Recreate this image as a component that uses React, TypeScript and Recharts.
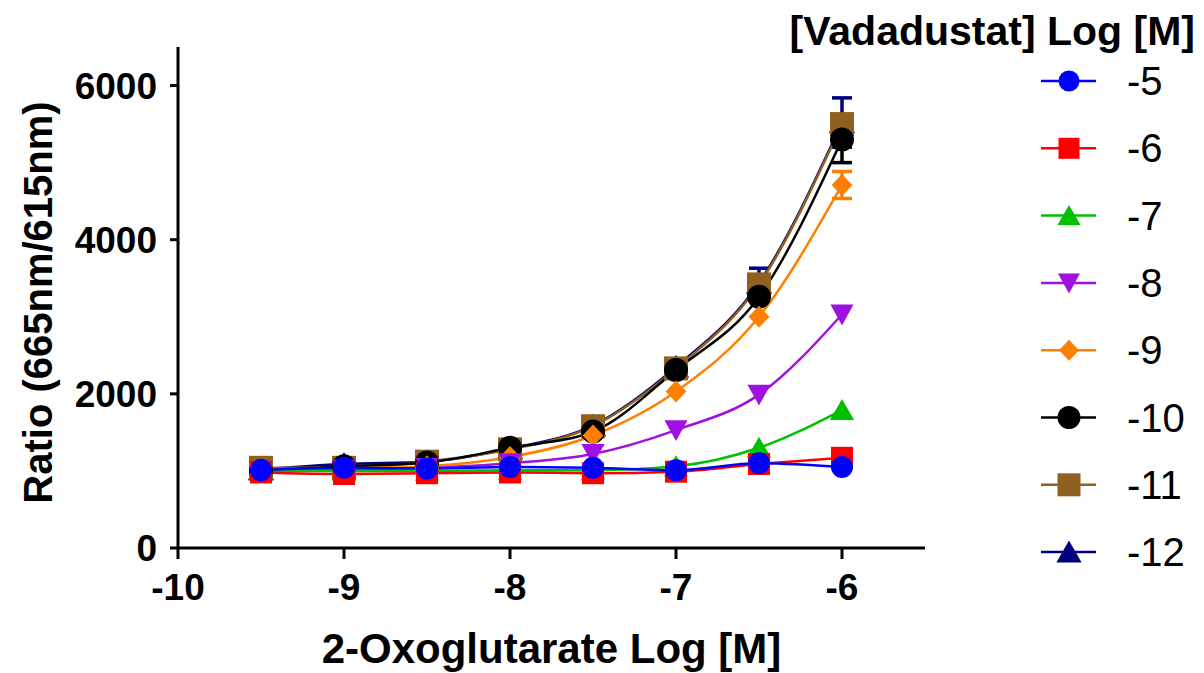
import React from 'react';
import { LineChart, Line, XAxis, YAxis, ErrorBar, Label } from 'recharts';

document.body.style.margin = '0';

const FONT = '"Liberation Sans", Arial, sans-serif';

// 2-oxoglutarate concentrations (log M)
const X_LOG = [-9.5, -9, -8.5, -8, -7.5, -7, -6.5, -6];
const X_TICKS = [-10, -9, -8, -7, -6];
const Y_TICKS = [0, 2000, 4000, 6000];
const X_DOMAIN: [number, number] = [-10, -5.5];
const Y_DOMAIN: [number, number] = [0, 6500];

// ratio (665nm/615nm) per vadadustat concentration
const RATIO_M5 = [1010, 1040, 1030, 1050, 1040, 1010, 1100, 1050];
const RATIO_M6 = [980, 960, 970, 980, 970, 990, 1090, 1170];
const RATIO_M7 = [1000, 1000, 1000, 1010, 1010, 1060, 1300, 1790];
const RATIO_M8 = [1000, 1020, 1040, 1100, 1220, 1530, 1990, 3030];
const RATIO_M9 = [1000, 1030, 1060, 1180, 1460, 2030, 3000, 4710];
const RATIO_M10 = [1000, 1060, 1110, 1300, 1510, 2310, 3260, 5300];
const RATIO_M11 = [1040, 1040, 1120, 1280, 1580, 2330, 3420, 5500];
const RATIO_M12 = [1020, 1090, 1120, 1290, 1590, 2350, 3440, 5520];

// error bars (only the ones that show)
const ERR_M9 = [0, 0, 0, 0, 0, 0, 0, 175];
const ERR_M10 = [0, 0, 0, 0, 0, 0, 0, 300];
const ERR_M12 = [0, 0, 0, 0, 0, 0, 190, 320];

type Shape = 'circle' | 'square' | 'triangle' | 'down' | 'diamond';

type Series = {
  key: string;
  name: string;
  color: string;
  shape: Shape;
  size: number;
  values: number[];
  errors?: number[];
};

const SERIES: Series[] = [
  { key: 'm5', name: '-5', color: '#0000ff', shape: 'circle', size: 22, values: RATIO_M5 },
  { key: 'm6', name: '-6', color: '#ff0000', shape: 'square', size: 22, values: RATIO_M6 },
  { key: 'm7', name: '-7', color: '#00c000', shape: 'triangle', size: 22, values: RATIO_M7 },
  { key: 'm8', name: '-8', color: '#a010e0', shape: 'down', size: 22, values: RATIO_M8 },
  { key: 'm9', name: '-9', color: '#ff8000', shape: 'diamond', size: 22, values: RATIO_M9, errors: ERR_M9 },
  { key: 'm10', name: '-10', color: '#000000', shape: 'circle', size: 24, values: RATIO_M10, errors: ERR_M10 },
  { key: 'm11', name: '-11', color: '#8f6020', shape: 'square', size: 24, values: RATIO_M11 },
  { key: 'm12', name: '-12', color: '#000080', shape: 'triangle', size: 24, values: RATIO_M12, errors: ERR_M12 },
];

// -12 goes in a chart underneath so the other symbols cover its error bars
const BACK = SERIES.filter((s) => s.key === 'm12');
const FRONT = SERIES.filter((s) => s.key !== 'm12').reverse();

const data = X_LOG.map((x, i) => {
  const row: Record<string, number> = { x };
  SERIES.forEach((s) => {
    row[s.key] = s.values[i];
    if (s.errors) row[s.key + '_err'] = s.errors[i];
  });
  return row;
});

function Marker({ shape, cx, cy, size, color }: { shape: Shape; cx: number; cy: number; size: number; color: string }) {
  const h = size / 2;
  if (shape === 'circle') return <circle cx={cx} cy={cy} r={h} fill={color} />;
  if (shape === 'square') return <rect x={cx - h} y={cy - h} width={size} height={size} fill={color} />;
  if (shape === 'triangle')
    return <polygon points={`${cx},${cy - h} ${cx + h * 1.1},${cy + h * 0.9} ${cx - h * 1.1},${cy + h * 0.9}`} fill={color} />;
  if (shape === 'down')
    return <polygon points={`${cx},${cy + h} ${cx + h * 1.05},${cy - h * 0.9} ${cx - h * 1.05},${cy - h * 0.9}`} fill={color} />;
  return <polygon points={`${cx},${cy - h} ${cx + h * 0.95},${cy} ${cx},${cy + h} ${cx - h * 0.95},${cy}`} fill={color} />;
}

const makeDot = (s: Series) => (props: any) => {
  const { cx, cy, index } = props;
  if (cx == null || cy == null) return <g key={`${s.key}-${index}`} />;
  return (
    <g key={`${s.key}-${index}`}>
      <Marker shape={s.shape} cx={cx} cy={cy} size={s.size} color={s.color} />
    </g>
  );
};

const renderLine = (s: Series) => (
  <Line
    key={s.key}
    dataKey={s.key}
    type="monotone"
    stroke={s.color}
    strokeWidth={2.5}
    dot={makeDot(s)}
    activeDot={false}
    isAnimationActive={false}
  >
    {s.errors && <ErrorBar dataKey={s.key + '_err'} width={10} stroke={s.color} strokeWidth={3.5} direction="y" />}
  </Line>
);

const tickStyle = { fontSize: 37, fontWeight: 'bold' as const, fill: '#000', fontFamily: FONT };
const layer = { position: 'absolute' as const, left: 0, top: 0 };

export default function App() {
  return (
    <div style={{ position: 'relative', width: 1204, height: 673, background: '#fff' }}>
      <div style={layer}>
        <LineChart width={1204} height={673} data={data} margin={{ top: 47, right: 279, bottom: 125, left: 178 }}>
          <XAxis dataKey="x" type="number" domain={X_DOMAIN} allowDataOverflow hide />
          <YAxis type="number" domain={Y_DOMAIN} hide />
          {BACK.map(renderLine)}
        </LineChart>
      </div>
      <div style={layer}>
        <LineChart width={1204} height={673} data={data} margin={{ top: 47, right: 279, bottom: 0, left: 0 }}>
          <XAxis
            dataKey="x"
            type="number"
            domain={X_DOMAIN}
            ticks={X_TICKS}
            allowDataOverflow
            height={125}
            stroke="#000"
            strokeWidth={3}
            tickSize={11}
            tickMargin={15}
            tick={tickStyle}
            tickLine={{ stroke: '#000', strokeWidth: 3 }}
          >
            <Label
              content={({ viewBox }: any) => (
                <text
                  x={viewBox.x + viewBox.width / 2}
                  y={viewBox.y + 115}
                  textAnchor="middle"
                  fontSize={42}
                  fontWeight="bold"
                  fontFamily={FONT}
                  fill="#000"
                >
                  2-Oxoglutarate Log [M]
                </text>
              )}
            />
          </XAxis>
          <YAxis
            type="number"
            domain={Y_DOMAIN}
            ticks={Y_TICKS}
            width={178}
            stroke="#000"
            strokeWidth={3}
            tickSize={8}
            tickMargin={13}
            tick={tickStyle}
            tickLine={{ stroke: '#000', strokeWidth: 3 }}
          >
            <Label
              content={({ viewBox }: any) => {
                const cx = 52;
                const cy = viewBox.y + viewBox.height / 2 + 5;
                return (
                  <text
                    x={cx}
                    y={cy}
                    transform={`rotate(-90 ${cx} ${cy})`}
                    textAnchor="middle"
                    fontSize={40}
                    fontWeight="bold"
                    fontFamily={FONT}
                    fill="#000"
                  >
                    Ratio (665nm/615nm)
                  </text>
                );
              }}
            />
          </YAxis>
          {FRONT.map(renderLine)}
        </LineChart>
      </div>
      <svg width={1204} height={673} style={{ ...layer, pointerEvents: 'none' }}>
        <text x={1195} y={45} textAnchor="end" fontSize={41} fontWeight="bold" fontFamily={FONT} fill="#000">
          [Vadadustat] Log [M]
        </text>
        {SERIES.map((s, i) => {
          const cy = 81 + i * 67.3;
          return (
            <g key={s.key}>
              <line x1={1041} x2={1096} y1={cy} y2={cy} stroke={s.color} strokeWidth={2.5} />
              <Marker shape={s.shape} cx={1069} cy={cy} size={s.size - 1} color={s.color} />
              <text x={1127} y={cy + 14} fontSize={40} fontFamily={FONT} fill="#000">
                {s.name}
              </text>
            </g>
          );
        })}
      </svg>
    </div>
  );
}
